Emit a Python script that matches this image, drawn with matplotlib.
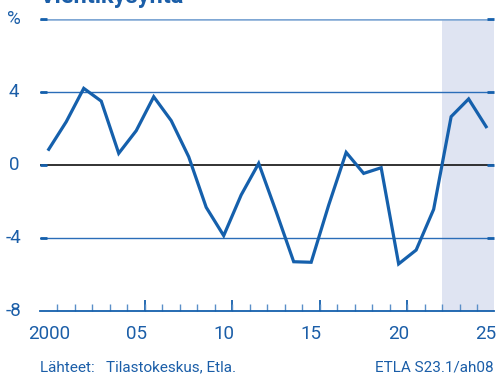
import matplotlib
matplotlib.use("Agg")
import matplotlib.pyplot as plt
from matplotlib.transforms import blended_transform_factory

years = list(range(2000, 2026))
values = [0.86, 2.37, 4.2, 3.5, 0.64, 1.88, 3.74, 2.43, 0.45, -2.32,
          -3.87, -1.64, 0.09, -2.56, -5.3, -5.33, -2.2, 0.69, -0.46, -0.15,
          -5.42, -4.66, -2.43, 2.65, 3.62, 2.1]
forecast_start = 2022.5
ytick_vals = [8, 4, 0, -4, -8]
ytick_labels = ["%", "4", "0", "-4", "-8"]
xlabel_years = [2000, 2005, 2010, 2015, 2020, 2025]
xlabel_text = ["2000", "05", "10", "15", "20", "25"]
title = "Vientikysyntä"
source = "Lähteet:   Tilastokeskus, Etla."
code = "ETLA S23.1/ah08"

plt.rcParams['font.family'] = ['Roboto', 'DejaVu Sans']
blue = "#1560ac"
textblue = "#1b5ea8"

fig = plt.figure(figsize=(4.97, 3.75), dpi=100)
W, H = 497, 375
ax = fig.add_axes([40/W, 1-311/H, 454/W, (311-19)/H])
ax.set_xlim(1999.5, 2025.45)
ax.set_ylim(-8, 8)

ax.axvspan(forecast_start, 2025.45, color="#dfe4f2", lw=0, zorder=0)
for v in [4, -4]:
    ax.axhline(v, color="#2a6db8", lw=1.0, zorder=1)
ax.axhline(8, color="#7fa7d4", lw=1.8, zorder=1)
ax.axhline(0, color="#222222", lw=1.3, zorder=1)

ax.plot(years, values, color=blue, lw=2.3, zorder=3, solid_joinstyle='miter')

for s in ["top", "right", "left"]:
    ax.spines[s].set_visible(False)
ax.spines["bottom"].set_color(blue)
ax.spines["bottom"].set_linewidth(1.3)

# y ticks (small marks at both ends of grid lines)
ax.set_yticks([8, 4, 0, -4])
ax.tick_params(axis='y', which='major', direction='in', length=5, width=2,
               color=blue, left=True, right=True, labelleft=False)
tr = blended_transform_factory(fig.transFigure, ax.transData)
for v, lab in zip(ytick_vals, ytick_labels):
    ax.text(14/W, v, lab, transform=tr, ha='center', va='center',
            fontsize=13.5, color=textblue)

# x ticks: labels at year centres, minor marks between years
ax.set_xticks(xlabel_years)
ax.set_xticklabels(xlabel_text, fontsize=13.5, color=textblue)
ax.tick_params(axis='x', which='major', length=0, pad=10)
ax.set_xticks([y + 0.5 for y in range(2000, 2025)], minor=True)
ax.tick_params(axis='x', which='minor', direction='in', length=5, width=1,
               color="#5b8fc8")
sec = ax.secondary_xaxis('bottom')
sec.set_xticks([2005.5, 2010.5, 2015.5, 2020.5])
sec.set_xticklabels([])
sec.tick_params(direction='in', length=8, width=1.3, color=blue)
sec.spines['bottom'].set_visible(False)

fig.text(40/W, 1-367/H, source, fontsize=11, color=textblue, va='center', ha='left')
fig.text(494/W, 1-367/H, code, fontsize=11, color=textblue, va='center', ha='right')
fig.text(40/W, 1-(-4)/H, title, fontsize=17, fontweight='bold', color=textblue,
         va='center', ha='left')

fig.savefig("out.png", dpi=100)
